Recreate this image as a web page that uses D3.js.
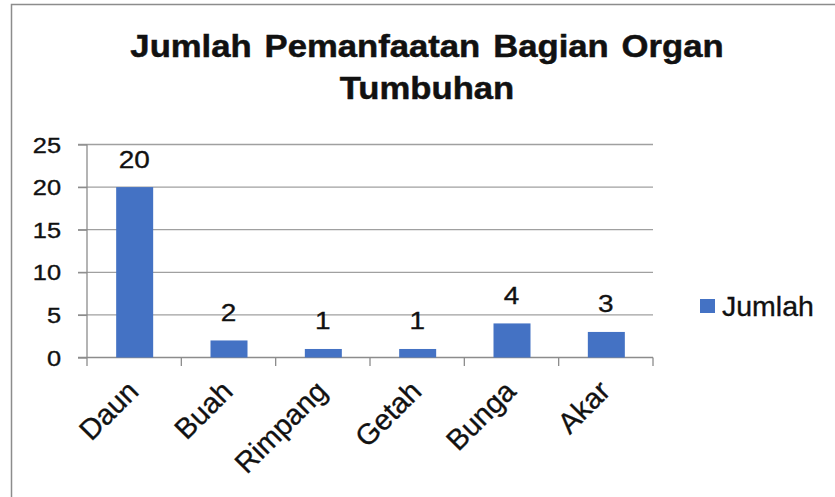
<!DOCTYPE html>
<html>
<head>
<meta charset="utf-8">
<script src="https://cdn.jsdelivr.net/npm/d3@7"></script>
<style>
  html, body { margin: 0; padding: 0; background: #fff; }
  text { font-family: "Liberation Sans", Arial, sans-serif; fill: #111; stroke: #111; stroke-width: 0.35px; }
  text.title { stroke-width: 0.5px; }
</style>
</head>
<body>
<div class="chart"></div>
<script>
var categories = ["Daun", "Buah", "Rimpang", "Getah", "Bunga", "Akar"];
var jumlah = [20, 2, 1, 1, 4, 3];
var yTicks = [0, 5, 10, 15, 20, 25];
var titleLines = ["Jumlah Pemanfaatan Bagian Organ", "Tumbuhan"];
var seriesName = "Jumlah";

var width = 835, height = 497;
var barColor = "#4472c4";
var gridColor = "#a0a0a0";

var svg = d3.select(".chart")
    .append("svg")
    .attr("width", width)
    .attr("height", height);

svg.append("rect")
    .attr("width", width)
    .attr("height", height)
    .attr("fill", "#fff");

// chart border (only left and top visible in the crop)
svg.append("rect")
    .attr("x", 11.5)
    .attr("y", 4.5)
    .attr("width", width + 20)
    .attr("height", height + 20)
    .attr("fill", "none")
    .attr("stroke", "#8c8c8c")
    .attr("stroke-width", 1.5);

var x = d3.scaleBand().domain(categories).range([87, 653]);
var y = d3.scaleLinear().domain([0, 25]).range([357.5, 144.5]);

// title
svg.selectAll(".title").data(titleLines).enter().append("text")
    .attr("class", "title")
    .attr("transform", function(d, i) { return "translate(427," + (57 + i * 42) + ") scale(1.1,1)"; })
    .attr("text-anchor", "middle")
    .attr("font-weight", "bold")
    .attr("font-size", 31.5)
    .attr("word-spacing", 3)
    .text(function(d) { return d; });

// gridlines
svg.append("g").selectAll("line").data(yTicks.slice(1)).enter().append("line")
    .attr("x1", 78).attr("x2", 653)
    .attr("y1", function(d) { return y(d); })
    .attr("y2", function(d) { return y(d); })
    .attr("stroke", gridColor)
    .attr("stroke-width", 1.3);

// y axis
var yAxis = svg.append("g")
    .attr("transform", "translate(87,0)")
    .call(d3.axisLeft(y).tickValues(yTicks).tickSize(9).tickPadding(0).tickFormat(function() { return ""; }));
yAxis.selectAll("line, path").attr("stroke", "#8c8c8c").attr("stroke-width", 1.3);
yAxis.select(".domain").attr("d", "M0," + y(25) + "V" + y(0));

svg.append("g").selectAll("text").data(yTicks).enter().append("text")
    .attr("transform", function(d) { return "translate(61," + (y(d) + 8) + ") scale(1.18,1)"; })
    .attr("text-anchor", "end")
    .attr("font-size", 21.5)
    .text(function(d) { return d; });

// x axis
var xAxis = svg.append("g");
xAxis.append("line")
    .attr("x1", 78).attr("x2", 653)
    .attr("y1", y(0)).attr("y2", y(0))
    .attr("stroke", "#8c8c8c").attr("stroke-width", 1.3);
var edges = categories.map(function(c) { return x(c); }).concat([x.range()[1]]);
xAxis.selectAll(".tick").data(edges).enter().append("line")
    .attr("x1", function(d) { return d; }).attr("x2", function(d) { return d; })
    .attr("y1", y(0)).attr("y2", y(0) + 8.5)
    .attr("stroke", "#8c8c8c").attr("stroke-width", 1.3);

svg.append("g").selectAll("text").data(categories).enter().append("text")
    .attr("transform", function(d) { return "translate(" + (x(d) + x.bandwidth() / 2 + 6) + ",393) rotate(-45)"; })
    .attr("text-anchor", "end")
    .attr("font-size", 29)
    .text(function(d) { return d; });

// bars
var barW = 37;
svg.append("g").selectAll("rect").data(jumlah).enter().append("rect")
    .attr("x", function(d, i) { return x(categories[i]) + x.bandwidth() / 2 - barW / 2 + 0.5; })
    .attr("y", function(d) { return y(d); })
    .attr("width", barW)
    .attr("height", function(d) { return y(0) - y(d); })
    .attr("fill", barColor);

// data labels
svg.append("g").selectAll("text").data(jumlah).enter().append("text")
    .attr("transform", function(d, i) { return "translate(" + (x(categories[i]) + x.bandwidth() / 2) + "," + (y(d) - 19.5) + ") scale(1.14,1)"; })
    .attr("text-anchor", "middle")
    .attr("font-size", 24.5)
    .text(function(d) { return d; });

// legend
svg.append("rect")
    .attr("x", 700).attr("y", 299)
    .attr("width", 15).attr("height", 14)
    .attr("fill", barColor);
svg.append("text")
    .attr("x", 722).attr("y", 315.5)
    .attr("font-size", 28.5)
    .text(seriesName);
</script>
</body>
</html>
